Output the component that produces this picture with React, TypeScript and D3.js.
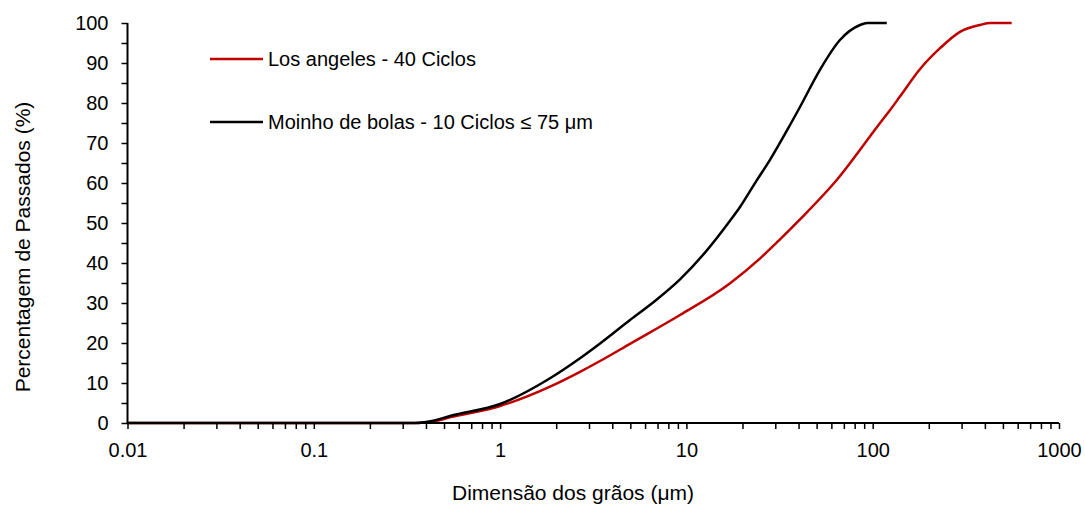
import { useEffect, useRef } from 'react';
import * as d3 from 'd3';

// grain size (µm) and cumulative % passing
const losAngelesSize = [0.01, 0.1, 0.35, 0.45, 0.538, 1.0, 1.854, 2.685, 3.44, 4.98, 9.24, 17.1, 24.8, 31.8, 40.7, 64.1, 109.5, 124, 140, 179.6, 229.8, 294, 376.7, 427, 557];
const losAngelesPass = [0, 0, 0, 0.5, 1.4, 4.25, 9.1, 12.8, 15.5, 19.8, 27, 34.9, 41.1, 45.9, 50.9, 60.75, 75, 78.25, 81.6, 88.5, 93.7, 97.8, 99.5, 100, 100];

const moinhoSize = [0.01, 0.1, 0.35, 0.45, 0.538, 1.0, 1.854, 2.685, 3.44, 4.98, 6.78, 9.24, 12.58, 17.1, 19.4, 23.8, 28.1, 36.0, 40.7, 52.1, 66.7, 85.5, 93.3, 119];
const moinhoPass = [0, 0, 0, 0.7, 1.75, 4.75, 11.2, 16.2, 19.9, 25.75, 30.5, 35.9, 42.6, 50.5, 54, 60.6, 65.8, 74.5, 79, 88.3, 95.75, 99.5, 100, 100];

const xTickValues = [0.01, 0.1, 1, 10, 100, 1000];
const xTickLabels = ['0.01', '0.1', '1', '10', '100', '1000'];
const yTickValues = [0, 10, 20, 30, 40, 50, 60, 70, 80, 90, 100];

const seriesNames = ['Los angeles - 40 Ciclos', 'Moinho de bolas - 10 Ciclos ≤ 75 μm'];
const seriesColors = ['#c00000', '#000000'];

const FONT = '"Liberation Sans", Arial, sans-serif';

const App = () => {
  const svgRef = useRef<SVGSVGElement | null>(null);

  useEffect(() => {
    const svg = d3.select(svgRef.current);
    svg.selectAll('*').remove();
    const width = 1085;
    const height = 514;
    const margin = { top: 23, right: 26, bottom: 91, left: 127.5 };

    const xScale = d3.scaleLog().domain([0.01, 1000]).range([margin.left, width - margin.right]);
    const yScale = d3.scaleLinear().domain([0, 100]).range([height - margin.bottom, margin.top]);

    const series = [
      losAngelesSize.map((s, i) => ({ x: s, y: losAngelesPass[i] })),
      moinhoSize.map((s, i) => ({ x: s, y: moinhoPass[i] })),
    ];

    const line = d3
      .line<{ x: number; y: number }>()
      .x((d) => xScale(d.x))
      .y((d) => yScale(d.y))
      .curve(d3.curveMonotoneX);

    // curves
    series.forEach((data, i) => {
      svg
        .append('path')
        .datum(data)
        .attr('d', line)
        .attr('fill', 'none')
        .attr('stroke', seriesColors[i])
        .attr('stroke-width', 2.5);
    });

    // x axis: ticks on every 1..9 of each decade
    const minor: number[] = [];
    for (let k = -2; k < 3; k++) {
      for (let m = 1; m < 10; m++) minor.push(m * Math.pow(10, k));
    }
    minor.push(1000);

    const xAxis = d3
      .axisBottom(xScale)
      .tickValues(minor)
      .tickSize(6)
      .tickFormat((d) => {
        const idx = xTickValues.indexOf(+d);
        return idx >= 0 ? xTickLabels[idx] : '';
      });

    const gx = svg
      .append('g')
      .attr('transform', `translate(0,${yScale(0)})`)
      .call(xAxis);
    gx.select('.domain').attr('d', `M${xScale(0.01)},0H${xScale(1000)}`).attr('stroke-width', 2);
    gx.selectAll('.tick line').attr('stroke-width', 1.5);
    gx.selectAll('text')
      .attr('y', 20)
      .attr('dy', '0.71em')
      .style('font-size', '20px')
      .style('font-family', FONT)
      .attr('fill', '#000');

    // y axis: ticks every 5, labels every 10
    const yAxis = d3
      .axisLeft(yScale)
      .tickValues(d3.range(0, 101, 5))
      .tickSize(6)
      .tickFormat((d) => (yTickValues.includes(+d) ? String(d) : ''));

    const gy = svg
      .append('g')
      .attr('transform', `translate(${margin.left},0)`)
      .call(yAxis);
    gy.select('.domain').attr('d', `M0,${yScale(0)}V${yScale(100)}`).attr('stroke-width', 2);
    gy.selectAll('.tick line').attr('stroke-width', 1.5);
    gy.selectAll('text')
      .attr('x', -19)
      .style('font-size', '20px')
      .style('font-family', FONT)
      .attr('fill', '#000');

    // axis titles
    svg
      .append('text')
      .attr('x', 573)
      .attr('y', 500)
      .attr('text-anchor', 'middle')
      .style('font-size', '21px')
      .style('font-family', FONT)
      .text('Dimensão dos grãos (μm)');

    svg
      .append('text')
      .attr('transform', 'translate(30,247) rotate(-90)')
      .attr('text-anchor', 'middle')
      .style('font-size', '21px')
      .style('font-family', FONT)
      .text('Percentagem de Passados (%)');

    // legend
    const legendY = [59, 122];
    seriesNames.forEach((name, i) => {
      svg
        .append('line')
        .attr('x1', 210)
        .attr('x2', 263)
        .attr('y1', legendY[i])
        .attr('y2', legendY[i])
        .attr('stroke', seriesColors[i])
        .attr('stroke-width', 2.5);
      svg
        .append('text')
        .attr('x', 268)
        .attr('y', legendY[i])
        .attr('dy', '0.35em')
        .style('font-size', '20px')
        .style('font-family', FONT)
        .text(name);
    });
  }, []);

  return (
    <svg
      ref={svgRef}
      width="1085"
      height="514"
      style={{ position: 'absolute', left: 0, top: 0, background: '#fff' }}
    ></svg>
  );
};

export default App;
